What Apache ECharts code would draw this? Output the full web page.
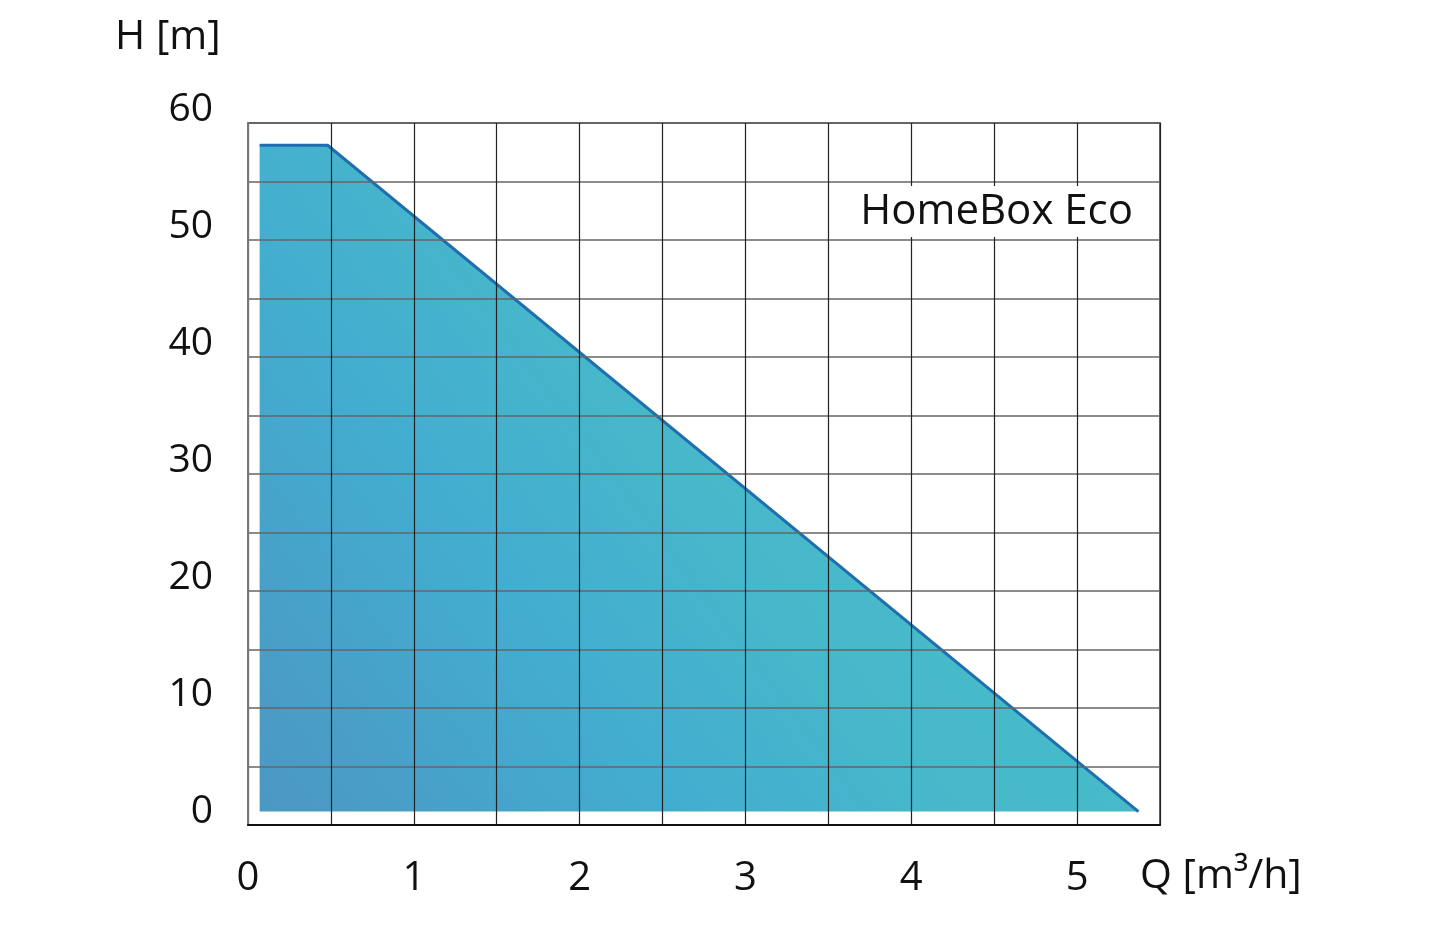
<!DOCTYPE html>
<html>
<head>
<meta charset="utf-8">
<script src="https://cdn.jsdelivr.net/npm/echarts@6/dist/echarts.min.js"></script>
<style>
html,body{margin:0;padding:0;background:#fff;}
#chart{width:1449px;height:929px;}
</style>
</head>
<body>
<div id="chart"></div>
<script>
// Data
const flowQ = [0.07, 0.48, 5.37];      // Q [m³/h]
const headH = [58.1, 58.1, 1.15];      // H [m]
const areaBase = 1.15;                 // bottom of the filled operating area
const xTicks = [0, 1, 2, 3, 4, 5];
const yTicks = [0, 10, 20, 30, 40, 50, 60];
const seriesName = 'HomeBox Eco';
const xAxisTitle = 'Q [m³/h]';
const yAxisTitle = 'H [m]';

const FONT = '"Open Sans", "Noto Sans", sans-serif';
const chart = echarts.init(document.getElementById('chart'), null, {renderer: 'canvas'});

const option = {
  animation: false,
  backgroundColor: '#ffffff',
  grid: {
    left: 248, top: 123, right: 289, bottom: 104,
    show: true, borderColor: '#333', borderWidth: 1.5, z: 4
  },
  xAxis: {
    type: 'value', min: 0, max: 5.5, interval: 0.5, z: 4,
    axisLine: {show: true, lineStyle: {color: '#111', width: 2}},
    axisTick: {show: false},
    splitLine: {show: true, lineStyle: {color: '#222', width: 1.2}},
    axisLabel: {
      margin: 34, fontFamily: FONT, fontSize: 40, color: '#111',
      formatter: v => (xTicks.indexOf(v) >= 0 ? String(v) : '')
    }
  },
  yAxis: {
    type: 'value', min: 0, max: 60, interval: 5, z: 4,
    axisLine: {show: true, lineStyle: {color: '#777', width: 2}},
    axisTick: {show: false},
    splitLine: {show: true, lineStyle: {color: '#666', width: 1.5}},
    axisLabel: {
      margin: 35, fontFamily: FONT, fontSize: 39, color: '#111',
      verticalAlign: 'bottom', lineHeight: 27,
      formatter: v => (yTicks.indexOf(v) >= 0 ? String(v) : '')
    }
  },
  series: [{
    type: 'line', name: seriesName, z: 2,
    data: flowQ.map((q, i) => [q, headH[i]]),
    symbol: 'none',
    lineStyle: {color: '#1f6fb0', width: 3},
    areaStyle: {
      origin: areaBase, opacity: 1,
      color: new echarts.graphic.LinearGradient(0, 1, 1, 0, [
        {offset: 0, color: '#4c97c4'},
        {offset: 0.3, color: '#43add0'},
        {offset: 0.5, color: '#47b8ca'},
        {offset: 1, color: '#48c2c6'}
      ])
    }
  }],
  graphic: [
    {type: 'text', left: 115, top: 17, z: 10,
     style: {text: yAxisTitle, font: '41px ' + FONT, fill: '#111'}},
    {type: 'text', left: 1140, top: 856, z: 10,
     style: {text: xAxisTitle, font: '41px ' + FONT, fill: '#111'}},
    {type: 'rect', z: 9, shape: {x: 852, y: 186, width: 300, height: 51},
     style: {fill: '#ffffff'}},
    {type: 'text', right: 1449 - 1133, top: 191, z: 10,
     style: {text: seriesName, font: '42px ' + FONT, fill: '#111'}}
  ]
};
chart.setOption(option);
</script>
</body>
</html>
